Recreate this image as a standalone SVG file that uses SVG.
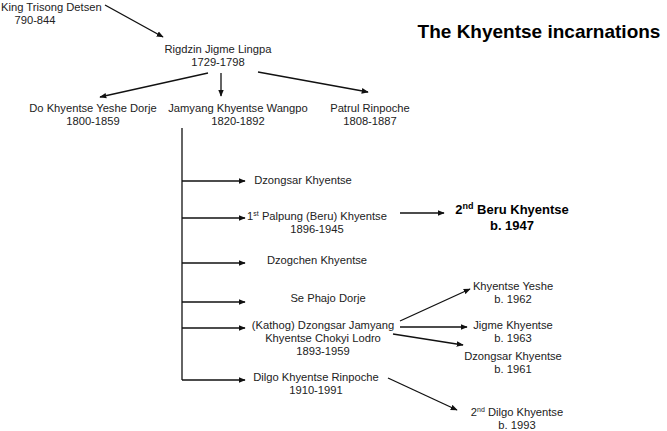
<svg xmlns="http://www.w3.org/2000/svg" width="667" height="431" viewBox="0 0 667 431">
<style>
text{font-family:"Liberation Sans",Arial,sans-serif;font-size:11.2px;fill:#222;text-anchor:middle}
text.s{text-anchor:start}
.b{font-weight:bold;font-size:13px;fill:#000}
.t{font-weight:bold;font-size:19px;fill:#000}
line{stroke:#111;stroke-width:1.3}
.a{marker-end:url(#ah)}
</style>
<defs><marker id="ah" viewBox="0 0 10 10" refX="9" refY="5" markerWidth="7" markerHeight="7" markerUnits="userSpaceOnUse" orient="auto"><path d="M0,1 L10,5 L0,9 z" fill="#111"/></marker></defs>
<rect width="667" height="431" fill="#fff"/>
<text class="t" x="539" y="38">The Khyentse incarnations</text>
<g id="connectors">
<line class="a" x1="105" y1="5" x2="163" y2="37"/>
<line class="a" x1="208" y1="73" x2="100" y2="97"/>
<line class="a" x1="221" y1="73" x2="221" y2="96"/>
<line class="a" x1="258" y1="72" x2="368" y2="92"/>
<line x1="182" y1="128" x2="182" y2="380"/>
<line class="a" x1="182" y1="181" x2="245" y2="181"/>
<line class="a" x1="182" y1="218" x2="245" y2="218"/>
<line class="a" x1="182" y1="263" x2="245" y2="263"/>
<line class="a" x1="182" y1="302" x2="245" y2="302"/>
<line class="a" x1="182" y1="328" x2="245" y2="328"/>
<line class="a" x1="182" y1="380" x2="245" y2="380"/>
<line class="a" x1="400" y1="213" x2="444" y2="213"/>
<line class="a" x1="400" y1="321" x2="470" y2="289"/>
<line class="a" x1="400" y1="327" x2="467" y2="327"/>
<line class="a" x1="393" y1="334" x2="463" y2="345"/>
<line class="a" x1="388" y1="378" x2="457" y2="410"/>
</g>
<g id="king"><text class="s" x="1" y="11">King Trisong Detsen</text><text x="35" y="24">790-844</text></g>
<g id="rigdzin"><text x="218" y="53">Rigdzin Jigme Lingpa</text><text x="218" y="66">1729-1798</text></g>
<g id="do"><text x="93" y="112">Do Khyentse Yeshe Dorje</text><text x="93" y="125">1800-1859</text></g>
<g id="jamyang"><text x="238" y="112">Jamyang Khyentse Wangpo</text><text x="238" y="125">1820-1892</text></g>
<g id="patrul"><text x="370" y="112">Patrul Rinpoche</text><text x="370" y="125">1808-1887</text></g>
<g id="dzongsar"><text x="303" y="184">Dzongsar Khyentse</text></g>
<g id="palpung"><text x="317" y="220">1<tspan font-size="7" dy="-4">st</tspan><tspan dy="4"> Palpung (Beru) Khyentse</tspan></text><text x="317" y="233">1896-1945</text></g>
<g id="dzogchen"><text x="317" y="264">Dzogchen Khyentse</text></g>
<g id="sephajo"><text x="328" y="302">Se Phajo Dorje</text></g>
<g id="kathog"><text x="323" y="329">(Kathog) Dzongsar Jamyang</text><text x="323" y="342">Khyentse Chokyi Lodro</text><text x="323" y="355">1893-1959</text></g>
<g id="dilgo"><text x="316" y="381">Dilgo Khyentse Rinpoche</text><text x="316" y="394">1910-1991</text></g>
<g id="beru2"><text class="b" x="512" y="214">2<tspan font-size="9" dy="-5">nd</tspan><tspan dy="5"> Beru Khyentse</tspan></text><text class="b" x="512" y="230">b. 1947</text></g>
<g id="yeshe"><text x="513" y="290">Khyentse Yeshe</text><text x="513" y="303">b. 1962</text></g>
<g id="jigme"><text x="513" y="329">Jigme Khyentse</text><text x="513" y="342">b. 1963</text></g>
<g id="dzongsar2"><text x="513" y="360">Dzongsar Khyentse</text><text x="513" y="373">b. 1961</text></g>
<g id="dilgo2"><text x="517" y="416">2<tspan font-size="7" dy="-4">nd</tspan><tspan dy="4"> Dilgo Khyentse</tspan></text><text x="517" y="429">b. 1993</text></g>
</svg>
